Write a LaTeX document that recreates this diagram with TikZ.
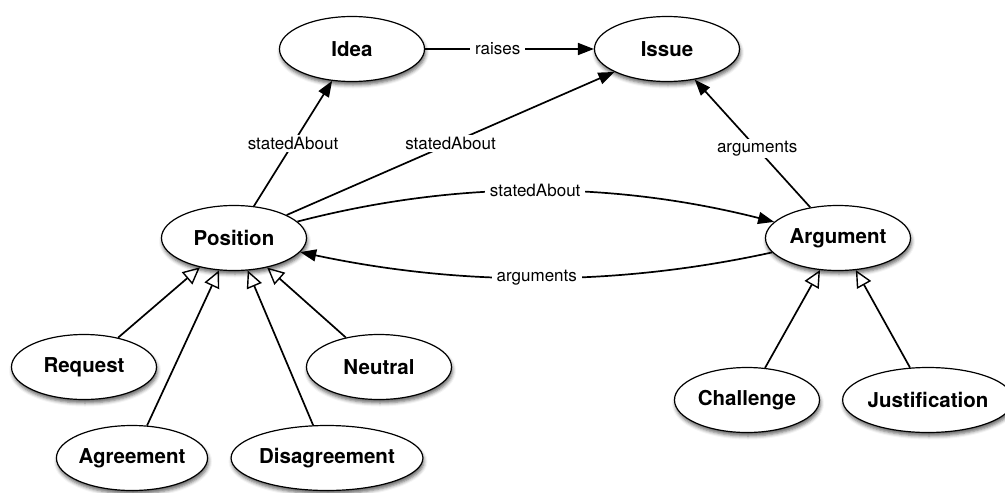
\documentclass[tikz,border=0pt]{standalone}
\usepackage{fontspec}
\setmainfont{TeX Gyre Heros}
\usetikzlibrary{arrows.meta,shapes.geometric,shadows.blur}

\begin{document}
\begin{tikzpicture}[x=1pt,y=-1pt,
  cls/.style={ellipse, draw=black, line width=1.2pt, fill=white,
    minimum width=145pt, minimum height=65pt, inner sep=0pt,
    font=\fontsize{20.5}{24}\selectfont\bfseries,
    blur shadow={shadow xshift=1pt, shadow yshift=-3.5pt,
      shadow blur radius=3.5pt, shadow opacity=60}},
  rel/.style={line width=1.7pt, -{Triangle[length=16pt,width=12pt]}},
  isa/.style={line width=1.7pt, -{Triangle[open,length=17pt,width=16pt,line width=1.4pt]}},
  lbl/.style={fill=white, inner xsep=5pt, inner ysep=2pt, font=\fontsize{17}{20}\selectfont}]

\useasboundingbox (0,0) rectangle (1005,493);

% concepts
\node[cls] (idea)     at (352,49)  {Idea};
\node[cls] (issue)    at (667,49)  {Issue};
\node[cls] (position) at (234,238) {Position};
\node[cls] (argument) at (838,238) {Argument};
\node[cls] (request)  at (84,367)  {Request};
\node[cls] (neutral)  at (379,367) {Neutral};
\node[cls] (agree)    at (132,458) {Agreement};
\node[cls] (disagree) at (327,458) {Disagreement};
\node[cls] (challenge) at (747,400) {Challenge};
\node[cls] (justify)  at (928,400) {Justification};

% relations
\draw[rel] (idea) -- node[lbl,pos=0.43] {raises} (issue);
\draw[rel] (position) -- node[lbl,pos=0.5] {statedAbout} (idea);
\draw[rel] (position) -- node[lbl,pos=0.5] {statedAbout} (issue);
\draw[rel] (argument) -- node[lbl,pos=0.46] {arguments} (issue);
\draw[rel] (position) .. controls (458,180) and (612,181) ..
  node[lbl,pos=0.5] {statedAbout} (argument);
\draw[rel] (argument) .. controls (614,287) and (460,286) ..
  node[lbl,pos=0.5] {arguments} (position);

% specialisations
\draw[isa] (request)  -- (position);
\draw[isa] (agree)    -- (position);
\draw[isa] (disagree) -- (position);
\draw[isa] (neutral)  -- (position);
\draw[isa] (challenge) -- (argument);
\draw[isa] (justify)  -- (argument);
\end{tikzpicture}
\end{document}
